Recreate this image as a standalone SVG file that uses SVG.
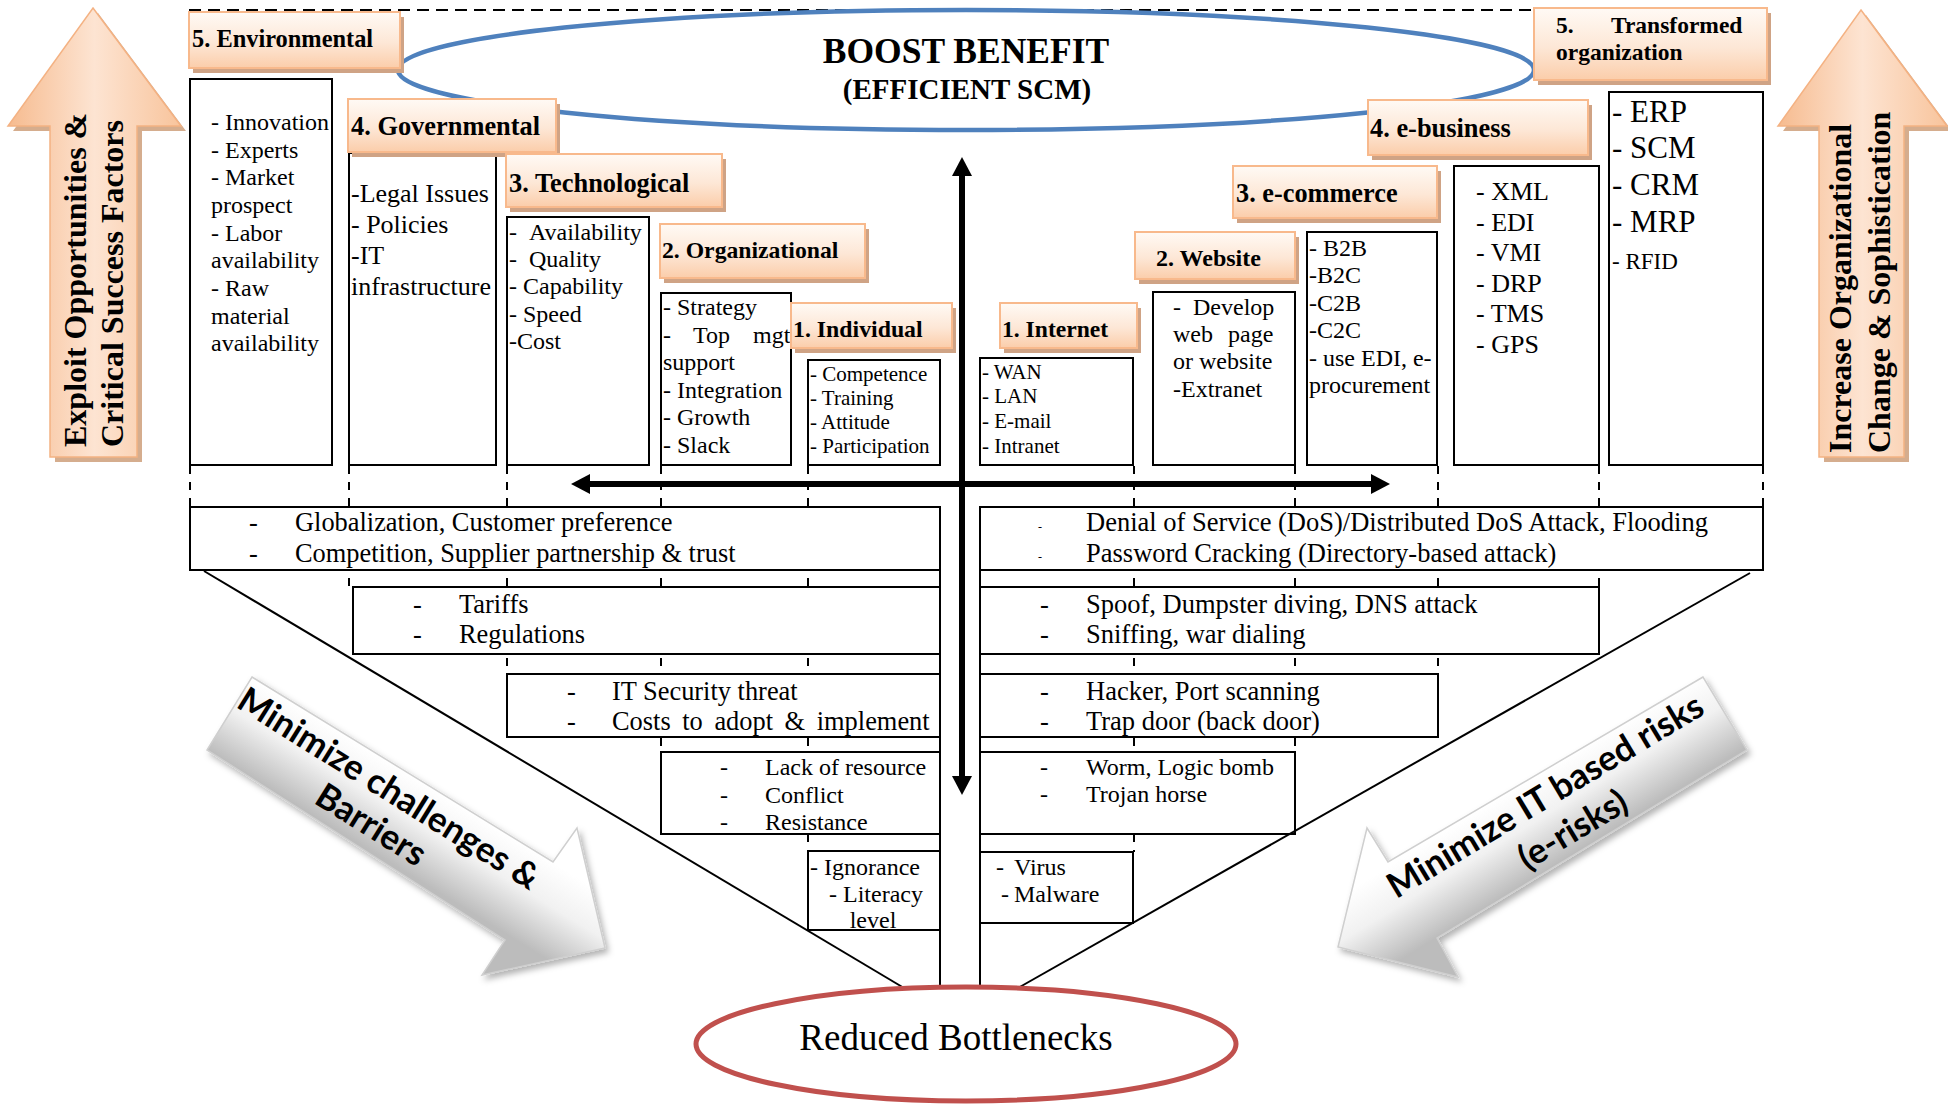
<svg xmlns="http://www.w3.org/2000/svg" width="1948" height="1105" viewBox="0 0 1948 1105">
<defs>
  <linearGradient id="lblg" x1="0" y1="0" x2="0" y2="1">
    <stop offset="0" stop-color="#fffaf5"/>
    <stop offset="0.55" stop-color="#fde7d6"/>
    <stop offset="1" stop-color="#fbcdaa"/>
  </linearGradient>
  <linearGradient id="peach" x1="0" y1="0" x2="1" y2="0">
    <stop offset="0" stop-color="#f6bb8f"/>
    <stop offset="0.5" stop-color="#fde4d2"/>
    <stop offset="1" stop-color="#f8c49c"/>
  </linearGradient>
  <linearGradient id="grayL" gradientUnits="userSpaceOnUse" x1="400" y1="768" x2="355" y2="841">
    <stop offset="0" stop-color="#ffffff"/>
    <stop offset="0.45" stop-color="#f1f1f1"/>
    <stop offset="1" stop-color="#bcbcbc"/>
  </linearGradient>
  <linearGradient id="grayR" gradientUnits="userSpaceOnUse" x1="1555" y1="764" x2="1600" y2="837">
    <stop offset="0" stop-color="#ffffff"/>
    <stop offset="0.45" stop-color="#f1f1f1"/>
    <stop offset="1" stop-color="#bcbcbc"/>
  </linearGradient>
  <filter id="ds" x="-20%" y="-20%" width="140%" height="140%">
    <feDropShadow dx="3" dy="4" stdDeviation="3" flood-color="#000" flood-opacity="0.3"/>
  </filter>
  <marker id="ah" viewBox="0 0 19 20" refX="0" refY="10" markerWidth="19" markerHeight="20" markerUnits="userSpaceOnUse" orient="auto-start-reverse">
    <path d="M0,0 L19,10 L0,20 z" fill="#000"/>
  </marker>
</defs>
<style>
  .serif{font-family:"Liberation Serif","Times New Roman",serif;fill:#000}
  .bold{font-weight:bold}
  .lbl .main{fill:url(#lblg);stroke:#f8b98c;stroke-width:2}
  .lbl .sh{fill:#cfa385}
  .cbox{fill:#fff;stroke:#000;stroke-width:2}
  .dash{stroke:#000;stroke-width:2;stroke-dasharray:8 8;fill:none}
  .ln{stroke:#000;stroke-width:2;fill:none}
  .sans{font-family:Lato,"Open Sans",sans-serif;font-weight:bold;fill:#000}
  .pa{fill:url(#peach);stroke:#f4b283;stroke-width:1.5}
  .pash{fill:#d5ad8e}
  .ga{stroke:#cfcfcf;stroke-width:1.5}
</style>
<rect width="1948" height="1105" fill="#fff"/>

<!-- top dashed line and benefit ellipse -->
<line x1="189" y1="10" x2="1763" y2="10" stroke="#000" stroke-width="2" stroke-dasharray="12 7"/>
<g id="boost-benefit">
  <ellipse cx="966" cy="70" rx="568" ry="60" fill="none" stroke="#4f81bd" stroke-width="4.5"/>
  <text class="serif bold" x="966" y="63" font-size="35.5" text-anchor="middle">BOOST BENEFIT</text>
  <text class="serif bold" x="967" y="99" font-size="29" text-anchor="middle">(EFFICIENT SCM)</text>
</g>

<!-- side peach arrows -->
<g id="arrow-exploit">
  <polygon class="pash" transform="translate(5,5)" points="93,8 181,126 137,126 137,457 50,457 50,126 8,126"/>
  <polygon class="pa" points="93,8 181,126 137,126 137,457 50,457 50,126 8,126"/>
  <text class="serif bold" font-size="32" transform="translate(86,447) rotate(-90)">Exploit Opportunities &amp;</text>
  <text class="serif bold" font-size="32" transform="translate(123,447) rotate(-90)">Critical Success Factors</text>
</g>
<g id="arrow-increase">
  <polygon class="pash" transform="translate(5,5)" points="1861,10 1947,126 1904,126 1904,457 1819,457 1819,126 1778,126"/>
  <polygon class="pa" points="1861,10 1947,126 1904,126 1904,457 1819,457 1819,126 1778,126"/>
  <text class="serif bold" font-size="32" transform="translate(1851,453) rotate(-90)">Increase Organizational</text>
  <text class="serif bold" font-size="32" transform="translate(1890,453) rotate(-90)">Change &amp; Sophistication</text>
</g>

<!-- dashed column guides -->
<g id="guides">
  <line class="dash" x1="190" y1="466" x2="190" y2="507"/>
  <line class="dash" x1="349" y1="466" x2="349" y2="587"/>
  <line class="dash" x1="507" y1="466" x2="507" y2="674"/>
  <line class="dash" x1="661" y1="466" x2="661" y2="752"/>
  <line class="dash" x1="808" y1="466" x2="808" y2="851"/>
  <line class="dash" x1="1763" y1="466" x2="1763" y2="507"/>
  <line class="dash" x1="1599" y1="466" x2="1599" y2="587"/>
  <line class="dash" x1="1438" y1="466" x2="1438" y2="674"/>
  <line class="dash" x1="1295" y1="466" x2="1295" y2="752"/>
  <line class="dash" x1="1134" y1="466" x2="1134" y2="852"/>
</g>

<!-- content boxes (left) -->
<g id="env-items">
  <rect class="cbox" x="190" y="79" width="142" height="386"/>
  <text class="serif" font-size="24" x="211">
    <tspan x="211" y="130">- Innovation</tspan>
    <tspan x="211" y="157.5">- Experts</tspan>
    <tspan x="211" y="185">- Market</tspan>
    <tspan x="211" y="213">prospect</tspan>
    <tspan x="211" y="240.5">- Labor</tspan>
    <tspan x="211" y="268">availability</tspan>
    <tspan x="211" y="296">- Raw</tspan>
    <tspan x="211" y="323.5">material</tspan>
    <tspan x="211" y="351">availability</tspan>
  </text>
</g>
<g id="gov-items">
  <rect class="cbox" x="349" y="153" width="147" height="312"/>
  <text class="serif" font-size="26">
    <tspan x="351" y="202">-Legal Issues</tspan>
    <tspan x="351" y="233">- Policies</tspan>
    <tspan x="351" y="264">-IT</tspan>
    <tspan x="351" y="295">infrastructure</tspan>
  </text>
</g>
<g id="tech-items">
  <rect class="cbox" x="507" y="217" width="142" height="248"/>
  <text class="serif" font-size="24">
    <tspan x="509" y="240">-</tspan><tspan x="529" y="240">Availability</tspan>
    <tspan x="509" y="267">-</tspan><tspan x="529" y="267">Quality</tspan>
    <tspan x="509" y="294">- Capability</tspan>
    <tspan x="509" y="322">- Speed</tspan>
    <tspan x="509" y="349">-Cost</tspan>
  </text>
</g>
<g id="org-items">
  <rect class="cbox" x="661" y="293" width="130" height="172"/>
  <text class="serif" font-size="24">
    <tspan x="663" y="315">- Strategy</tspan>
    <tspan x="663" y="343">-</tspan><tspan x="693" y="343">Top</tspan><tspan x="753" y="343">mgt</tspan>
    <tspan x="663" y="370">support</tspan>
    <tspan x="663" y="398">- Integration</tspan>
    <tspan x="663" y="425">- Growth</tspan>
    <tspan x="663" y="453">- Slack</tspan>
  </text>
</g>
<g id="ind-items">
  <rect class="cbox" x="808" y="360" width="132" height="105"/>
  <text class="serif" font-size="21">
    <tspan x="810" y="381">- Competence</tspan>
    <tspan x="810" y="405">- Training</tspan>
    <tspan x="810" y="429">- Attitude</tspan>
    <tspan x="810" y="453">- Participation</tspan>
  </text>
</g>

<!-- content boxes (right) -->
<g id="internet-items">
  <rect class="cbox" x="980" y="358" width="153" height="107"/>
  <text class="serif" font-size="21">
    <tspan x="982" y="379">- WAN</tspan>
    <tspan x="982" y="403">- LAN</tspan>
    <tspan x="982" y="428">- E-mail</tspan>
    <tspan x="982" y="453">- Intranet</tspan>
  </text>
</g>
<g id="website-items">
  <rect class="cbox" x="1153" y="292" width="142" height="173"/>
  <text class="serif" font-size="24">
    <tspan x="1173" y="315">-</tspan><tspan x="1193" y="315">Develop</tspan>
    <tspan x="1173" y="342">web</tspan><tspan x="1228" y="342">page</tspan>
    <tspan x="1173" y="369">or website</tspan>
    <tspan x="1173" y="397">-Extranet</tspan>
  </text>
</g>
<g id="ecommerce-items">
  <rect class="cbox" x="1307" y="232" width="130" height="233"/>
  <text class="serif" font-size="24">
    <tspan x="1309" y="256">- B2B</tspan>
    <tspan x="1309" y="283">-B2C</tspan>
    <tspan x="1309" y="311">-C2B</tspan>
    <tspan x="1309" y="338">-C2C</tspan>
    <tspan x="1309" y="366">- use EDI, e-</tspan>
    <tspan x="1309" y="393">procurement</tspan>
  </text>
</g>
<g id="ebusiness-items">
  <rect class="cbox" x="1454" y="166" width="145" height="299"/>
  <text class="serif" font-size="26">
    <tspan x="1476" y="200">- XML</tspan>
    <tspan x="1476" y="231">- EDI</tspan>
    <tspan x="1476" y="261">- VMI</tspan>
    <tspan x="1476" y="292">- DRP</tspan>
    <tspan x="1476" y="322">- TMS</tspan>
    <tspan x="1476" y="353">- GPS</tspan>
  </text>
</g>
<g id="transformed-items">
  <rect class="cbox" x="1609" y="92" width="154" height="373"/>
  <text class="serif" font-size="31">
    <tspan x="1612" y="122">- ERP</tspan>
    <tspan x="1612" y="158">- SCM</tspan>
    <tspan x="1612" y="195">- CRM</tspan>
    <tspan x="1612" y="232">- MRP</tspan>
  </text>
  <text class="serif" font-size="23" x="1612" y="269">- RFID</text>
</g>

<!-- label boxes -->
<g id="lbl-environmental" class="lbl">
  <rect class="sh" x="193" y="17" width="211" height="56"/>
  <rect class="main" x="189" y="12" width="211" height="56"/>
  <text class="serif bold" x="192" y="47" font-size="24.4">5. Environmental</text>
</g>
<g id="lbl-governmental" class="lbl">
  <rect class="sh" x="352" y="104" width="208" height="53"/>
  <rect class="main" x="348" y="99" width="208" height="53"/>
  <text class="serif bold" x="351" y="135" font-size="26.4">4. Governmental</text>
</g>
<g id="lbl-technological" class="lbl">
  <rect class="sh" x="510" y="159" width="216" height="53"/>
  <rect class="main" x="506" y="154" width="216" height="53"/>
  <text class="serif bold" x="509" y="192" font-size="26.4">3. Technological</text>
</g>
<g id="lbl-organizational" class="lbl">
  <rect class="sh" x="664" y="229" width="205" height="54"/>
  <rect class="main" x="660" y="224" width="205" height="54"/>
  <text class="serif bold" x="662" y="258" font-size="23.7">2. Organizational</text>
</g>
<g id="lbl-individual" class="lbl">
  <rect class="sh" x="795" y="308" width="161" height="45"/>
  <rect class="main" x="791" y="303" width="161" height="45"/>
  <text class="serif bold" x="793" y="337" font-size="23.8">1. Individual</text>
</g>
<g id="lbl-internet" class="lbl">
  <rect class="sh" x="1004" y="308" width="137" height="45"/>
  <rect class="main" x="1000" y="303" width="137" height="45"/>
  <text class="serif bold" x="1002" y="337" font-size="23.6">1. Internet</text>
</g>
<g id="lbl-website" class="lbl">
  <rect class="sh" x="1139" y="237" width="160" height="47"/>
  <rect class="main" x="1135" y="232" width="160" height="47"/>
  <text class="serif bold" x="1156" y="266" font-size="24">2. Website</text>
</g>
<g id="lbl-ecommerce" class="lbl">
  <rect class="sh" x="1237" y="171" width="204" height="52"/>
  <rect class="main" x="1233" y="166" width="204" height="52"/>
  <text class="serif bold" x="1236" y="202" font-size="26.3">3. e-commerce</text>
</g>
<g id="lbl-ebusiness" class="lbl">
  <rect class="sh" x="1372" y="105" width="220" height="55"/>
  <rect class="main" x="1368" y="100" width="220" height="55"/>
  <text class="serif bold" x="1370" y="137" font-size="26.4">4. e-business</text>
</g>
<g id="lbl-transformed" class="lbl">
  <rect class="sh" x="1538" y="13" width="233" height="72"/>
  <rect class="main" x="1534" y="8" width="233" height="72"/>
  <text class="serif bold" font-size="23.5">
    <tspan x="1556" y="33">5.</tspan><tspan x="1611" y="33">Transformed</tspan>
    <tspan x="1556" y="60">organization</tspan>
  </text>
</g>

<!-- bottom challenge boxes (left) -->
<g id="barrier-env">
  <rect class="cbox" x="190" y="507" width="750" height="63"/>
  <text class="serif" font-size="26.4">
    <tspan x="249" y="531">-</tspan><tspan x="295" y="531">Globalization, Customer preference</tspan>
    <tspan x="249" y="562">-</tspan><tspan x="295" y="562">Competition, Supplier partnership &amp; trust</tspan>
  </text>
</g>
<g id="barrier-gov">
  <rect class="cbox" x="353" y="587" width="587" height="67"/>
  <text class="serif" font-size="26.4">
    <tspan x="413" y="613">-</tspan><tspan x="459" y="613">Tariffs</tspan>
    <tspan x="413" y="643">-</tspan><tspan x="459" y="643">Regulations</tspan>
  </text>
</g>
<g id="barrier-tech">
  <rect class="cbox" x="507" y="674" width="433" height="63"/>
  <text class="serif" font-size="26.4">
    <tspan x="567" y="700">-</tspan><tspan x="612" y="700">IT Security threat</tspan>
    <tspan x="567" y="730">-</tspan><tspan x="612" y="730" word-spacing="5">Costs to adopt &amp; implement</tspan>
  </text>
</g>
<g id="barrier-org">
  <rect class="cbox" x="661" y="752" width="279" height="82"/>
  <text class="serif" font-size="24">
    <tspan x="720" y="775">-</tspan><tspan x="765" y="775">Lack of resource</tspan>
    <tspan x="720" y="803">-</tspan><tspan x="765" y="803">Conflict</tspan>
    <tspan x="720" y="830">-</tspan><tspan x="765" y="830">Resistance</tspan>
  </text>
</g>
<g id="barrier-ind">
  <rect class="cbox" x="808" y="851" width="132" height="79"/>
  <text class="serif" font-size="24">
    <tspan x="810" y="875">- Ignorance</tspan>
    <tspan x="829" y="902">- Literacy</tspan>
    <tspan x="873" y="928" text-anchor="middle">level</tspan>
  </text>
</g>

<!-- bottom risk boxes (right) -->
<g id="risk-5">
  <rect class="cbox" x="980" y="507" width="783" height="63"/>
  <text class="serif" font-size="12" x="1038" y="531">-</text>
  <text class="serif" font-size="12" x="1038" y="561">-</text>
  <text class="serif" font-size="26.5">
    <tspan x="1086" y="531">Denial of Service (DoS)/Distributed DoS Attack, Flooding</tspan>
    <tspan x="1086" y="562">Password Cracking (Directory-based attack)</tspan>
  </text>
</g>
<g id="risk-4">
  <rect class="cbox" x="980" y="587" width="619" height="67"/>
  <text class="serif" font-size="26.5">
    <tspan x="1040" y="613">-</tspan><tspan x="1086" y="613">Spoof, Dumpster diving, DNS attack</tspan>
    <tspan x="1040" y="643">-</tspan><tspan x="1086" y="643">Sniffing, war dialing</tspan>
  </text>
</g>
<g id="risk-3">
  <rect class="cbox" x="980" y="674" width="458" height="63"/>
  <text class="serif" font-size="26.5">
    <tspan x="1040" y="700">-</tspan><tspan x="1086" y="700">Hacker, Port scanning</tspan>
    <tspan x="1040" y="730">-</tspan><tspan x="1086" y="730">Trap door (back door)</tspan>
  </text>
</g>
<g id="risk-2">
  <rect class="cbox" x="980" y="752" width="315" height="82"/>
  <text class="serif" font-size="24">
    <tspan x="1040" y="775">-</tspan><tspan x="1086" y="775">Worm, Logic bomb</tspan>
    <tspan x="1040" y="802">-</tspan><tspan x="1086" y="802">Trojan horse</tspan>
  </text>
</g>
<g id="risk-1">
  <rect class="cbox" x="980" y="852" width="153" height="71"/>
  <text class="serif" font-size="24">
    <tspan x="996" y="875">-</tspan><tspan x="1014" y="875">Virus</tspan>
    <tspan x="1001" y="902">-</tspan><tspan x="1014" y="902">Malware</tspan>
  </text>
</g>

<!-- funnel lines -->
<g id="funnel">
  <line class="ln" x1="940" y1="507" x2="940" y2="988"/>
  <line class="ln" x1="980" y1="507" x2="980" y2="988"/>
  <line class="ln" x1="204" y1="571" x2="904" y2="988"/>
  <line class="ln" x1="1750" y1="573" x2="1018" y2="988"/>
</g>

<!-- gray arrows -->
<g id="arrow-minimize-barriers">
  <polygon class="ga" fill="url(#grayL)" filter="url(#ds)" points="252,677 553,862 577,828 605,948 482,975 505,940 207,750"/>
  <text class="sans" font-size="35" text-anchor="middle" transform="translate(386,801) rotate(32)">
    <tspan x="0" y="0">Minimize challenges &amp;</tspan>
    <tspan x="0" y="40">Barriers</tspan>
  </text>
</g>
<g id="arrow-minimize-risks">
  <polygon class="ga" fill="url(#grayR)" filter="url(#ds)" points="1703,677 1388,862 1367,828 1338,947 1458,977 1437,938 1747,750"/>
  <text class="sans" font-size="35" text-anchor="middle" transform="translate(1555,804) rotate(-31)">
    <tspan x="0" y="0">Minimize IT based risks</tspan>
    <tspan x="2" y="43">(e-risks)</tspan>
  </text>
</g>

<!-- reduced bottlenecks -->
<g id="reduced-bottlenecks">
  <ellipse cx="966" cy="1044" rx="270" ry="57" fill="#fff" stroke="#c0504d" stroke-width="5"/>
  <text class="serif" x="956" y="1050" font-size="37" text-anchor="middle">Reduced Bottlenecks</text>
</g>

<!-- connectors: central axes -->
<g id="connectors">
  <line x1="590" y1="484" x2="1371" y2="484" stroke="#000" stroke-width="6" marker-start="url(#ah)" marker-end="url(#ah)"/>
  <line x1="962" y1="176" x2="962" y2="776" stroke="#000" stroke-width="6" marker-start="url(#ah)" marker-end="url(#ah)"/>
</g>
</svg>
